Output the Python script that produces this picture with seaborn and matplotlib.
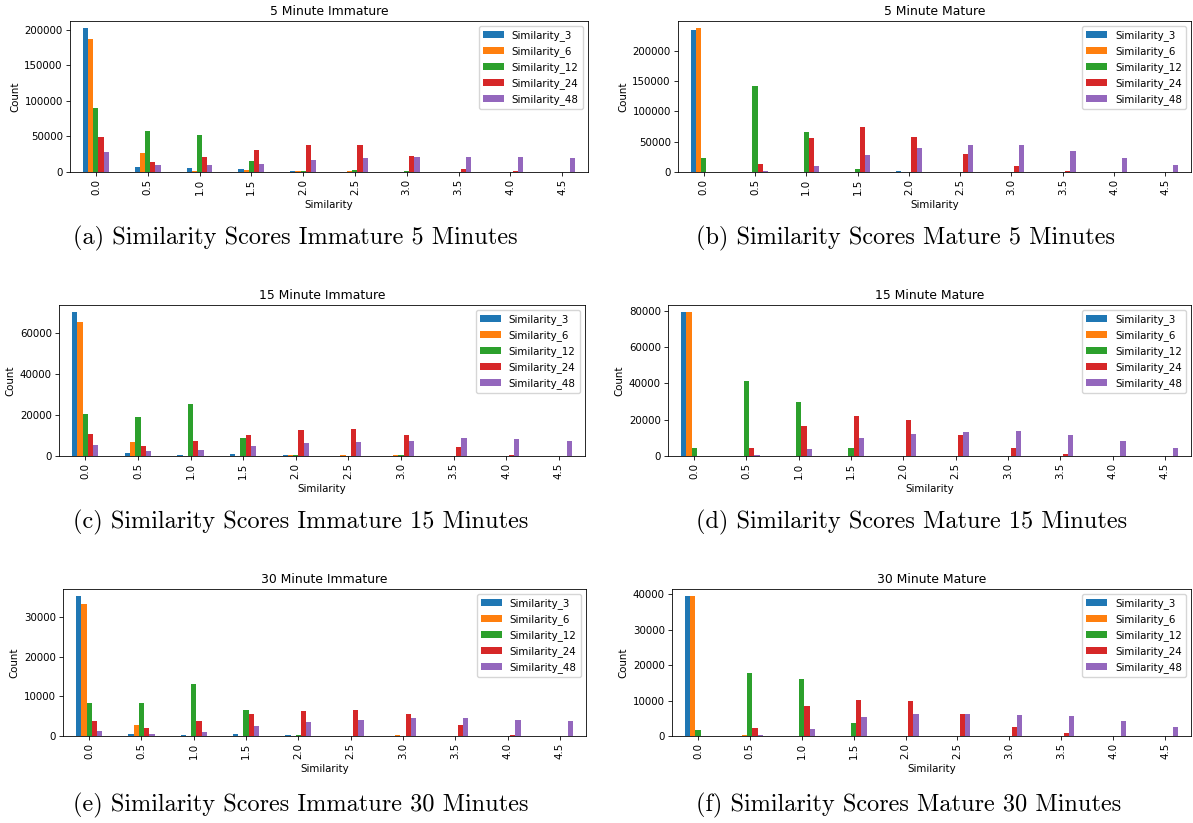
import matplotlib
matplotlib.use("Agg")
import matplotlib.pyplot as plt
import seaborn as sns
import pandas as pd

categories = ["0.0", "0.5", "1.0", "1.5", "2.0", "2.5", "3.0", "3.5", "4.0", "4.5"]
series = ["Similarity_3", "Similarity_6", "Similarity_12", "Similarity_24", "Similarity_48"]
colors = ["#1f77b4", "#ff7f0e", "#2ca02c", "#d62728", "#9467bd"]

# 5 Minute Immature
imm5_s3 = [202300, 7500, 5200, 3800, 1000, 0, 0, 0, 0, 0]
imm5_s6 = [186800, 26300, 1500, 2400, 2000, 1000, 0, 0, 0, 0]
imm5_s12 = [90300, 58300, 51800, 16000, 2000, 3000, 2000, 500, 0, 0]
imm5_s24 = [48900, 14600, 21200, 31500, 38600, 37600, 22600, 3800, 1000, 500]
imm5_s48 = [28700, 9400, 9400, 11800, 16500, 20200, 20700, 21600, 21600, 20200]

# 5 Minute Mature
mat5_s3 = [234700, 0, 0, 0, 1000, 0, 0, 0, 0, 0]
mat5_s6 = [236900, 0, 0, 0, 0, 0, 0, 0, 0, 0]
mat5_s12 = [23700, 141000, 65600, 5000, 0, 0, 0, 0, 0, 0]
mat5_s24 = [0, 12700, 56200, 73800, 57300, 29200, 9400, 1000, 0, 0]
mat5_s48 = [0, 1000, 9900, 27500, 40200, 45200, 44100, 35300, 22600, 11600]

# 15 Minute Immature
imm15_s3 = [70100, 1600, 300, 1100, 300, 0, 0, 0, 0, 0]
imm15_s6 = [65400, 6700, 200, 200, 400, 300, 300, 0, 0, 0]
imm15_s12 = [20300, 18900, 25200, 8600, 500, 200, 300, 0, 200, 0]
imm15_s24 = [10600, 4900, 7500, 10400, 12500, 13300, 10400, 4200, 400, 0]
imm15_s48 = [5400, 2300, 2800, 4900, 6200, 7000, 7500, 8600, 8100, 7500]

# 15 Minute Mature
mat15_s3 = [79100, 0, 0, 0, 0, 0, 0, 0, 0, 0]
mat15_s6 = [79100, 0, 0, 0, 0, 0, 0, 0, 0, 0]
mat15_s12 = [4200, 41100, 29500, 4600, 0, 0, 0, 0, 0, 0]
mat15_s24 = [0, 4200, 16300, 22000, 20000, 11700, 4400, 1100, 0, 0]
mat15_s48 = [0, 400, 3700, 10100, 12100, 13000, 13800, 11400, 8100, 4600]

# 30 Minute Immature
imm30_s3 = [35400, 600, 350, 500, 300, 0, 0, 0, 0, 0]
imm30_s6 = [33400, 2800, 0, 0, 0, 0, 200, 0, 0, 0]
imm30_s12 = [8300, 8400, 13200, 6600, 300, 0, 0, 0, 0, 0]
imm30_s24 = [3900, 2100, 3900, 5600, 6400, 6600, 5600, 2800, 200, 0]
imm30_s48 = [1300, 600, 900, 2600, 3500, 4100, 4600, 4500, 4100, 3900]

# 30 Minute Mature
mat30_s3 = [39500, 0, 0, 0, 0, 0, 0, 0, 0, 0]
mat30_s6 = [39500, 300, 0, 0, 0, 0, 0, 0, 0, 0]
mat30_s12 = [1800, 17900, 16200, 3800, 0, 0, 0, 0, 0, 0]
mat30_s24 = [0, 2300, 8400, 10100, 9900, 6300, 2600, 750, 0, 0]
mat30_s48 = [0, 300, 2100, 5400, 6300, 6300, 6000, 5600, 4200, 2400]

titles = ["5 Minute Immature", "5 Minute Mature", "15 Minute Immature",
          "15 Minute Mature", "30 Minute Immature", "30 Minute Mature"]
captions = ["(a) Similarity Scores Immature 5 Minutes",
            "(b) Similarity Scores Mature 5 Minutes",
            "(c) Similarity Scores Immature 15 Minutes",
            "(d) Similarity Scores Mature 15 Minutes",
            "(e) Similarity Scores Immature 30 Minutes",
            "(f) Similarity Scores Mature 30 Minutes"]
panels = [
    [imm5_s3, imm5_s6, imm5_s12, imm5_s24, imm5_s48],
    [mat5_s3, mat5_s6, mat5_s12, mat5_s24, mat5_s48],
    [imm15_s3, imm15_s6, imm15_s12, imm15_s24, imm15_s48],
    [mat15_s3, mat15_s6, mat15_s12, mat15_s24, mat15_s48],
    [imm30_s3, imm30_s6, imm30_s12, imm30_s24, imm30_s48],
    [mat30_s3, mat30_s6, mat30_s12, mat30_s24, mat30_s48],
]

W, H = 1193, 823
# axes boxes in pixels: left, right, top, bottom
boxes = [(70, 588, 21, 172), (678, 1191, 21, 172),
         (59, 585, 305, 456), (668, 1191, 305, 456),
         (63, 586, 589, 736), (672, 1191, 589, 736)]
cap_pos = [(73, 238), (696, 238), (73, 522), (696, 522), (73, 805), (696, 805)]

s = 0.74
plt.rcParams.update({
    "font.size": 10 * s,
    "axes.titlesize": 12 * s,
    "axes.labelsize": 10 * s,
    "xtick.labelsize": 10 * s,
    "ytick.labelsize": 10 * s,
    "legend.fontsize": 10 * s,
    "axes.linewidth": 0.8 * s,
    "xtick.major.width": 0.8 * s,
    "ytick.major.width": 0.8 * s,
    "xtick.major.size": 3.5 * s,
    "ytick.major.size": 3.5 * s,
    "xtick.major.pad": 3.5 * s,
    "ytick.major.pad": 3.5 * s,
    "axes.labelpad": 4 * s,
    "axes.titlepad": 6 * s,
})

fig = plt.figure(figsize=(W / 100, H / 100), dpi=100)

for i, vals in enumerate(panels):
    l, r, t, b = boxes[i]
    ax = fig.add_axes([l / W, 1 - b / H, (r - l) / W, (b - t) / H])
    rows = []
    for name, v in zip(series, vals):
        for c, y in zip(categories, v):
            rows.append({"Similarity": c, "Count": y, "Series": name})
    df = pd.DataFrame(rows)
    sns.barplot(data=df, x="Similarity", y="Count", hue="Series",
                order=categories, hue_order=series, palette=colors,
                width=0.5, errorbar=None, saturation=1, linewidth=0, ax=ax)
    ax.set_title(titles[i])
    ax.set_xlabel("Similarity")
    ax.set_ylabel("Count")
    ax.tick_params(axis="x", labelrotation=90)
    sns.move_legend(ax, "upper right", title=None, fontsize=10 * s)
    fig.text(cap_pos[i][0] / W, 1 - cap_pos[i][1] / H, captions[i],
             family="cmr10", fontsize=17.5, ha="left", va="center")

fig.savefig("out.png", dpi=100)
